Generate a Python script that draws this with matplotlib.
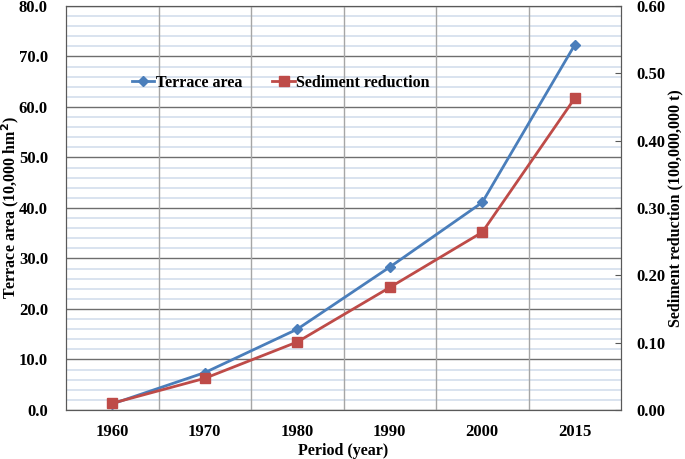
import matplotlib.pyplot as plt
import numpy as np
from matplotlib.ticker import MultipleLocator

periods = ["1960", "1970", "1980", "1990", "2000", "2015"]
terrace_area = [1.2, 7.4, 16.0, 28.3, 41.1, 72.3]
sediment_reduction = [0.010, 0.047, 0.101, 0.182, 0.264, 0.463]

plt.rcParams["font.family"] = ["Liberation Serif", "DejaVu Serif"]
plt.rcParams["font.weight"] = "bold"

fig = plt.figure(figsize=(6.85, 4.59), dpi=100)
ax = fig.add_axes([0.0964, 0.1068, 0.8102, 0.8802])
x = np.arange(len(periods))

ax.set_xlim(-0.5, len(periods) - 0.5)
ax.set_ylim(0, 80)
ax.yaxis.set_major_locator(MultipleLocator(10))
ax.yaxis.set_minor_locator(MultipleLocator(2))
ax.grid(which="minor", axis="y", color="#d3deec", lw=1.2)
ax.grid(which="major", axis="y", color="#6e6e6e", lw=1.0)
ax.vlines(x[:-1] + 0.5, 0, 80, color="#a6a6a6", lw=1.0, zorder=0.9)
ax.set_axisbelow(True)
ax.set_xticks(x)
ax.set_xticklabels(periods)
ax.yaxis.set_major_formatter(lambda v, p: "%.1f" % v)
ax.tick_params(which="both", length=0, labelsize=12)
ax.tick_params(axis="y", pad=13)
ax.tick_params(axis="x", pad=10)
for s in ax.spines.values():
    s.set_color("#595959")

l1, = ax.plot(x, terrace_area, color="#4a7ebb", lw=2, marker="D", ms=5,
              label="Terrace area", zorder=3)
ax.set_ylabel("Terrace area (10,000 hm$^\\mathbf{2}$)", fontsize=11.5,
              fontweight="bold")
ax.yaxis.set_label_coords(-0.082, 0.5)
ax.set_xlabel("Period (year)", fontsize=11.5, fontweight="bold", labelpad=2)

ax2 = ax.twinx()
ax2.set_ylim(0, 0.6)
ax2.yaxis.set_major_locator(MultipleLocator(0.1))
ax2.yaxis.set_major_formatter(lambda v, p: "%.2f" % v)
ax2.tick_params(direction="in", length=4, color="#595959", labelsize=12, pad=11)
for s in ax2.spines.values():
    s.set_color("#595959")
l2, = ax2.plot(x, sediment_reduction, color="#be4b48", lw=2, marker="s", ms=7,
               label="Sediment reduction")
ax2.set_ylabel("Sediment reduction (100,000,000 t)", fontsize=11.5,
               fontweight="bold", rotation=90)
ax2.yaxis.set_label_coords(1.083, 0.5)

ax.legend(handles=[l1, l2], loc="center", bbox_to_anchor=(0.387, 0.81),
          ncol=2, frameon=False, handlelength=1.4,
          handletextpad=0.1, columnspacing=1.9,
          prop={"weight": "bold", "size": 11.5})

plt.savefig("out.png", dpi=100)
